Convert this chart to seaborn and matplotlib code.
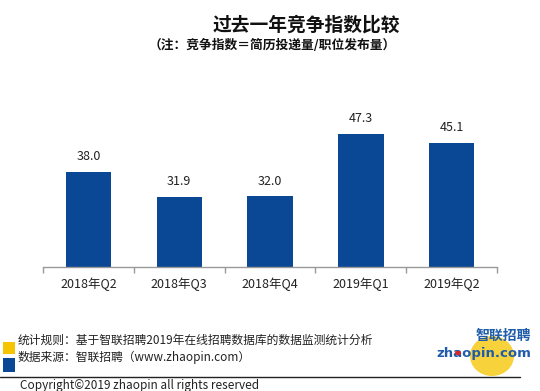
import matplotlib
matplotlib.use("Agg")
import matplotlib.pyplot as plt
import seaborn as sns
from matplotlib.patches import Rectangle, Ellipse, Circle
from matplotlib.lines import Line2D

sns.set_theme(style="white")
plt.rcParams['font.family'] = ['Noto Sans CJK SC', 'DejaVu Sans']

categories = ["2018年Q2", "2018年Q3", "2018年Q4", "2019年Q1", "2019年Q2"]
values = [38.0, 31.9, 32.0, 47.3, 45.1]
value_labels = ["38.0", "31.9", "32.0", "47.3", "45.1"]

W, H = 540, 391
fig = plt.figure(figsize=(W / 100, H / 100), dpi=100)

def fx(px):
    return px / W

def fy(py):
    return 1 - py / H

ax = fig.add_axes([fx(43), fy(266.7), fx(497) - fx(43), (266.7 - 100) / H])
sns.barplot(x=categories, y=values, color="#0A4795", width=0.5, ax=ax,
            saturation=1, edgecolor="none")
ax.set_xlim(-0.5, len(categories) - 0.5)
ax.set_ylim(14.7, 14.7 + 166.7 / 4.07)
for i, (v, lab) in enumerate(zip(values, value_labels)):
    ax.annotate(lab, (i, v), xytext=(0, 11), textcoords="offset points",
                ha="center", va="center", fontsize=9, color="#222222")
for s in ["top", "right", "left"]:
    ax.spines[s].set_visible(False)
ax.spines["bottom"].set_color("#999999")
ax.spines["bottom"].set_linewidth(1)
ax.set_yticks([])
ax.set_xlabel("")
ax.set_ylabel("")
ax.set_xticks([i - 0.5 for i in range(len(categories) + 1)], minor=True)
ax.tick_params(axis="x", which="minor", length=4, color="#999999", width=1, direction="out", bottom=True)
ax.tick_params(axis="x", which="major", length=0, labelsize=9, pad=8, labelcolor="#222222")

# Titles
fig.text(fx(306), fy(25), "过去一年竞争指数比较", ha="center", va="center",
         fontsize=13.5, fontweight="bold", color="#111111")
fig.text(fx(272), fy(45), "（注：竞争指数＝简历投递量/职位发布量）", ha="center", va="center",
         fontsize=9.2, fontweight="bold", color="#111111")

# Footer
fig.patches.append(Rectangle((fx(3), fy(354)), fx(12), 12 / H, transform=fig.transFigure,
                             facecolor="#F6C400", edgecolor="none"))
fig.patches.append(Rectangle((fx(3), fy(372)), fx(12), 14 / H, transform=fig.transFigure,
                             facecolor="#0A4795", edgecolor="none"))
fig.text(fx(18), fy(340), "统计规则：基于智联招聘2019年在线招聘数据库的数据监测统计分析",
         ha="left", va="center", fontsize=8.5, color="#222222")
fig.text(fx(18), fy(357), "数据来源：智联招聘（www.zhaopin.com）",
         ha="left", va="center", fontsize=8.5, color="#222222")

# Logo
fig.patches.append(Ellipse((fx(492), fy(356)), 44 / W, 40 / H, transform=fig.transFigure,
                           facecolor="#F7D23A", edgecolor="none", zorder=1))
fig.text(fx(503), fy(336), "智联招聘", ha="center", va="center", fontsize=10,
         fontweight="bold", style="italic", color="#1F5DAA", zorder=3)
fig.text(fx(484), fy(353), "zhaopin.com", ha="center", va="center", fontsize=9.5,
         fontweight="bold", color="#1F5DAA", family=["DejaVu Sans"], zorder=3)
fig.patches.append(Circle((fx(458), fy(353)), 3 / W, transform=fig.transFigure,
                          facecolor="#D9262C", edgecolor="none", zorder=4))

fig.lines.append(Line2D([0, fx(520)], [fy(377), fy(377)], transform=fig.transFigure,
                        color="#222222", linewidth=1, zorder=5))
fig.text(fx(20), fy(385), "Copyright©2019 zhaopin all rights reserved",
         ha="left", va="center", fontsize=8.5, color="#222222")

fig.savefig("out.png", dpi=100)
